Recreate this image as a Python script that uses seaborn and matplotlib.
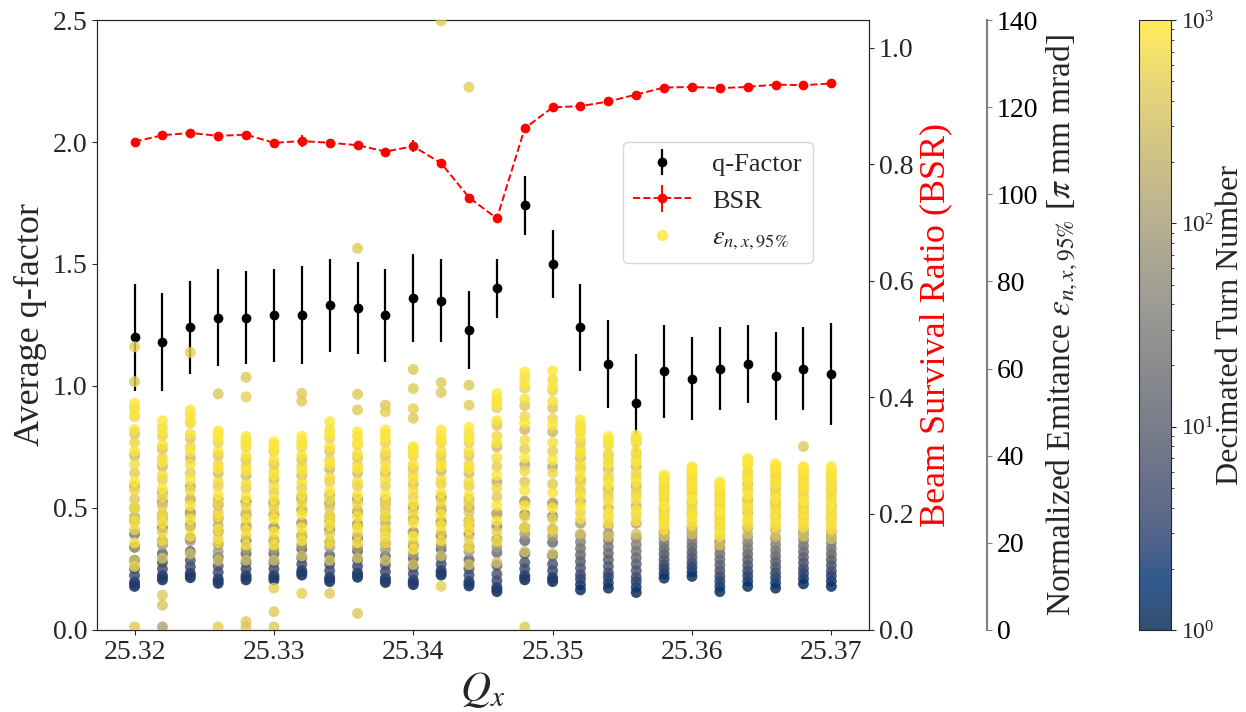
import matplotlib
matplotlib.use("Agg")
import matplotlib.pyplot as plt
import seaborn as sns
import numpy as np
import pandas as pd
from matplotlib.colors import LogNorm
from matplotlib.cm import ScalarMappable
from matplotlib.lines import Line2D

# tune scan points
QX = [25.320, 25.322, 25.324, 25.326, 25.328, 25.330, 25.332, 25.334, 25.336,
      25.338, 25.340, 25.342, 25.344, 25.346, 25.348, 25.350, 25.352, 25.354,
      25.356, 25.358, 25.360, 25.362, 25.364, 25.366, 25.368, 25.370]

# average q-factor and its spread
Q_FACTOR = [1.20, 1.18, 1.24, 1.28, 1.28, 1.29, 1.29, 1.33, 1.32, 1.29, 1.36, 1.35,
            1.23, 1.40, 1.74, 1.50, 1.24, 1.09, 0.93, 1.06, 1.03, 1.07, 1.09, 1.04,
            1.07, 1.05]
Q_ERR = [0.22, 0.20, 0.19, 0.20, 0.19, 0.19, 0.20, 0.19, 0.19, 0.19, 0.18, 0.17,
         0.16, 0.12, 0.12, 0.14, 0.18, 0.18, 0.20, 0.19, 0.17, 0.17, 0.16, 0.18,
         0.17, 0.21]

# beam survival ratio
BSR = [0.839, 0.850, 0.854, 0.849, 0.851, 0.837, 0.840, 0.837, 0.833, 0.822, 0.831,
       0.802, 0.743, 0.707, 0.862, 0.898, 0.900, 0.908, 0.920, 0.932, 0.933, 0.931,
       0.933, 0.937, 0.936, 0.939]
BSR_ERR = [0.005, 0.005, 0.005, 0.005, 0.005, 0.005, 0.010, 0.005, 0.006, 0.005, 0.010,
           0.006, 0.005, 0.005, 0.006, 0.005, 0.005, 0.005, 0.005, 0.005, 0.005, 0.005,
           0.005, 0.005, 0.005, 0.005]

# decimated turns at which the emittance was sampled
TURNS_EARLY = [1, 2, 3, 4, 6, 9, 14, 22, 35, 60]
TURNS_LATE = [100, 140, 190, 250, 310, 370, 430, 480, 530, 580, 630, 670, 710, 750,
              790, 830, 870, 900, 930, 960, 980, 1000]

# normalized emittance [pi mm mrad], one row per QX
EMIT_EARLY = [
    [10.0, 11.0, 10.5, 12.5, 14.0, 16.0, 19.0, 22.0, 25.0, 28.0],
    [11.5, 12.5, 12.0, 14.0, 15.5, 17.5, 20.5, 23.5, 26.5, 29.5],
    [12.0, 13.0, 12.5, 14.5, 16.0, 18.0, 21.0, 24.0, 27.0, 30.0],
    [10.7, 11.7, 11.2, 13.2, 14.7, 16.7, 19.7, 22.7, 25.7, 28.7],
    [11.5, 12.5, 12.0, 14.0, 15.5, 17.5, 20.5, 23.5, 26.5, 29.5],
    [11.5, 12.5, 12.0, 14.0, 15.5, 17.5, 20.5, 23.5, 26.5, 29.5],
    [12.6, 13.6, 13.1, 15.1, 16.6, 18.6, 21.6, 24.6, 27.6, 30.6],
    [11.1, 12.1, 11.6, 13.6, 15.1, 17.1, 20.1, 23.1, 26.1, 29.1],
    [12.1, 13.1, 12.6, 14.6, 16.1, 18.1, 21.1, 24.1, 27.1, 30.1],
    [10.9, 11.9, 11.4, 13.4, 14.9, 16.9, 19.9, 22.9, 25.9, 28.9],
    [10.4, 11.4, 10.9, 12.9, 14.4, 16.4, 19.4, 22.4, 25.4, 28.4],
    [12.6, 13.6, 13.1, 15.1, 16.6, 18.6, 21.6, 24.6, 27.6, 30.6],
    [10.1, 11.1, 10.6, 12.6, 14.1, 16.1, 19.1, 22.1, 25.1, 28.1],
    [8.8, 9.8, 9.3, 11.3, 12.8, 14.8, 17.8, 20.8, 23.8, 26.8],
    [11.5, 12.5, 12.0, 14.0, 15.5, 17.5, 20.5, 23.5, 26.5, 29.5],
    [11.1, 12.1, 11.6, 13.6, 15.1, 17.1, 20.1, 23.1, 26.1, 29.1],
    [9.2, 10.4, 11.7, 12.7, 14.2, 15.7, 17.2, 18.7, 20.2, 21.7],
    [9.6, 10.8, 12.1, 13.1, 14.6, 16.1, 17.6, 19.1, 20.6, 22.1],
    [8.6, 9.8, 11.1, 12.1, 13.6, 15.1, 16.6, 18.1, 19.6, 21.1],
    [11.9, 12.9, 14.0, 15.0, 16.2, 17.4, 18.6, 19.8, 21.0, 22.2],
    [12.3, 13.3, 14.4, 15.4, 16.6, 17.8, 19.0, 20.2, 21.4, 22.6],
    [8.8, 10.0, 11.2, 12.3, 13.6, 14.9, 16.2, 17.5, 18.8, 20.1],
    [10.0, 11.2, 12.4, 13.5, 14.8, 16.1, 17.4, 18.7, 20.0, 21.3],
    [9.6, 10.8, 12.0, 13.1, 14.4, 15.7, 17.0, 18.3, 19.6, 20.9],
    [10.6, 11.8, 13.0, 14.1, 15.4, 16.7, 18.0, 19.3, 20.6, 21.9],
    [10.0, 11.2, 12.4, 13.5, 14.8, 16.1, 17.4, 18.7, 20.0, 21.3],
]
EMIT_LATE = [
    [19, 33, 26, 40, 16, 45, 30, 36, 49, 23, 43, 32, 51, 38, 20, 46, 28, 41, 25, 49.5, 34, 52],
    [19.5, 31.5, 25.5, 37.5, 16.5, 41.5, 28.5, 34.5, 44.5, 22.5, 39.5, 30.5, 46.5, 35.5, 20.5, 42.5, 26.5, 38.5, 24.5, 45.5, 32.5, 48],
    [20.5, 33, 26.5, 39.5, 17.5, 44, 30, 36, 47.5, 23.5, 42, 32, 49.5, 38, 21.5, 45, 28.5, 41, 25.5, 48, 34.5, 50.5],
    [18, 30, 24, 36, 16, 40, 27, 33, 43, 21, 38, 29, 45, 34, 20, 41, 26, 37, 23, 44, 31, 45.7],
    [18.5, 29.5, 24, 35.5, 16, 39, 27, 32.5, 42, 21.5, 37.5, 28.5, 43.5, 33.5, 19.5, 40, 25.5, 36.5, 23, 42.5, 30.5, 44.4],
    [18.5, 29, 23.5, 34.5, 16, 38, 26.5, 31.5, 41, 21, 36.5, 28, 42.5, 33, 19.5, 39, 25.5, 35.5, 22.5, 41.5, 30, 43.2],
    [19.5, 30, 24.5, 35.5, 17, 39, 27.5, 32.5, 42, 22, 37.5, 29, 43.5, 34, 20.5, 40, 26.5, 36.5, 23.5, 42.5, 31, 44.5],
    [19, 31, 25, 37, 16, 41, 28, 34, 44, 22, 39, 30, 46, 35, 20, 42, 26, 38, 24, 45, 32, 47.8],
    [19, 30, 24.5, 36, 16.5, 39.5, 27.5, 33, 42.5, 22, 38, 29, 44.5, 34, 20, 40.5, 26, 37, 23.5, 43, 31, 45.5],
    [18.5, 30, 24.5, 36, 16, 40, 27.5, 33, 43, 21.5, 38.5, 29, 45, 34.5, 20, 41, 26, 37, 23, 44, 31, 45.9],
    [17.5, 28, 22.5, 33.5, 15, 37, 25.5, 30.5, 40, 20, 35.5, 27, 41.5, 32, 18.5, 38, 24.5, 34.5, 21.5, 40.5, 29, 42.1],
    [19.5, 30.5, 25, 36.5, 17, 40, 28, 33.5, 43, 22.5, 38.5, 29.5, 44.5, 34.5, 20.5, 41, 26.5, 37.5, 24, 43.5, 31.5, 45.9],
    [18, 30, 24, 36, 15, 40, 27, 33, 43, 21, 38, 29, 45, 34, 19, 41, 25, 37, 23, 44, 31, 46.5],
    [19, 34, 26.5, 42, 15.5, 47, 30.5, 37.5, 51, 22.5, 44.5, 32.5, 53, 39.5, 20.5, 48, 28.5, 43, 25, 52, 35.5, 54.3],
    [22, 38, 29.5, 46, 18, 51.5, 34, 41.5, 55.5, 26, 49, 36.5, 58, 43.5, 23.5, 53, 32, 47.5, 28.5, 56.5, 39.5, 59.2],
    [21.5, 37.5, 29, 45.5, 17.5, 51, 33.5, 41, 55, 25.5, 48.5, 36, 57.5, 43, 23, 52.5, 31.5, 47, 28, 56, 39, 59.5],
    [24.5, 34.5, 29.5, 39.5, 22, 43, 32, 37, 45.5, 27, 41.5, 33.5, 47, 38, 25.5, 44, 31, 40.5, 28.5, 46, 35.5, 48.2],
    [24, 32.5, 28, 37, 21.5, 40, 30.5, 34.5, 42.5, 26, 38.5, 31.5, 43.5, 35.5, 24.5, 40.5, 29.5, 38, 27, 43, 33.5, 44.4],
    [24.5, 33, 28.5, 37.5, 22, 40.5, 31, 35, 43, 26.5, 39, 32, 44, 36, 25, 41, 30, 38.5, 27.5, 43.5, 34, 44.7],
    [22.5, 28, 25.5, 31, 21.5, 33, 27, 29.5, 34.5, 24, 32, 27.5, 35, 30, 23, 33.5, 26, 31.5, 25, 34.5, 28.5, 35.6],
    [23.5, 29.5, 26.5, 32.5, 22, 34.5, 28, 31, 36, 25, 33.5, 29, 37, 31.5, 24, 35, 27, 33, 26, 36.5, 30, 37.5],
    [20.5, 26.5, 23.5, 29, 19.5, 31, 25, 27.5, 32.5, 22, 30.5, 26, 33.5, 28.5, 21.5, 31.5, 24.5, 30, 23, 33, 27, 34],
    [23.5, 30, 27, 33.5, 22, 36, 28.5, 32, 38, 25, 35, 29.5, 39, 32.5, 24, 36.5, 28, 34.5, 26, 38, 31, 39.4],
    [23, 29.5, 26, 32.5, 21.5, 35, 28, 31, 36.5, 24.5, 34, 28.5, 37.5, 31.5, 23.5, 35.5, 27, 33.5, 25.5, 37, 30, 38.2],
    [23, 29, 26, 32.5, 21.5, 34.5, 27.5, 30.5, 36, 24.5, 33.5, 28.5, 37, 31.5, 23.5, 35, 27, 33, 25.5, 36.5, 29.5, 37.5],
    [22.5, 28.5, 25.5, 32, 21, 34, 27, 30, 35.5, 24, 33, 28, 36.5, 31, 23, 34.5, 26.5, 32.5, 25, 36, 29, 37.5],
]

# isolated emittance points: QX index, turn, emittance
OUT_IDX = [0, 0, 0, 0, 1, 1, 1, 2, 3, 3, 4, 4, 4, 4, 5, 5, 5, 6, 6, 6, 7, 8, 8, 8, 8,
           9, 9, 10, 10, 10, 10, 11, 11, 11, 11, 12, 12, 12, 14, 24]
OUT_TURN = [500, 400, 450, 600, 400, 350, 120, 500, 400, 450, 400, 500, 450, 400, 450,
            400, 500, 400, 450, 500, 450, 400, 450, 400, 450, 400, 500, 400, 450, 500,
            400, 450, 400, 500, 450, 400, 450, 500, 450, 400]
OUT_EMIT = [65.0, 57.0, 0.7, 14.6, 8.0, 5.7, 0.7, 63.7, 54.2, 0.7, 58.0, 53.5, 1.9, 0.7,
            4.2, 0.7, 9.6, 54.3, 52.5, 8.4, 8.4, 54.1, 50.5, 3.8, 87.6, 51.6, 50.1, 59.8,
            55.4, 50.8, 48.6, 56.8, 54.5, 10.0, 139.8, 56.2, 51.6, 124.6, 0.7, 42.1]

rows = []
for turns, table in [(TURNS_EARLY, EMIT_EARLY), (TURNS_LATE, EMIT_LATE)]:
    for qx, col in zip(QX, table):
        for t, e in zip(turns, col):
            rows.append((qx, t, e))
for i, t, e in zip(OUT_IDX, OUT_TURN, OUT_EMIT):
    rows.append((QX[i], t, e))
emit_df = pd.DataFrame(rows, columns=["Qx", "turn", "emit"])

sns.set_style("ticks")
plt.rcParams["font.family"] = "serif"
plt.rcParams["font.serif"] = ["Liberation Serif", "DejaVu Serif"]
plt.rcParams["mathtext.fontset"] = "stix"

fig = plt.figure(figsize=(12.46, 7.12), dpi=100)
ax = fig.add_axes([0.0778, 0.1152, 0.6196, 0.8567])
ax2 = ax.twinx()
ax3 = ax.twinx()
cax = fig.add_axes([0.9141, 0.1152, 0.0257, 0.8567])

# q-factor
qf = ax.errorbar(QX, Q_FACTOR, yerr=Q_ERR, fmt="o", color="black", ms=6, elinewidth=1.6,
                 label="q-Factor")
ax.set_ylim(0, 2.5)
ax.set_xlim(25.3173, 25.3727)
ax.set_xticks([25.32, 25.33, 25.34, 25.35, 25.36, 25.37])
ax.set_xticklabels(["25.32", "25.33", "25.34", "25.35", "25.36", "25.37"])
ax.set_yticks([0, 0.5, 1.0, 1.5, 2.0, 2.5])
ax.tick_params(labelsize=20)
ax.set_ylabel("Average q-factor", fontsize=26)
ax.set_xlabel(r"$Q_x$", fontsize=30)

# beam survival ratio
bsr = ax2.errorbar(QX, BSR, yerr=BSR_ERR, fmt="o--", color="red", ms=6, lw=1.4,
                   elinewidth=1.4, label="BSR")
ax2.set_ylim(0, 1.048)
ax2.set_yticks([0, 0.2, 0.4, 0.6, 0.8, 1.0])
ax2.tick_params(labelsize=20)
ax2.set_ylabel("Beam Survival Ratio (BSR)", fontsize=26, color="red")

# emittance cloud
norm = LogNorm(vmin=1, vmax=1000)
sns.scatterplot(data=emit_df, x="Qx", y="emit", hue="turn", hue_norm=norm,
                palette="cividis", s=62, alpha=0.8, edgecolor="none", legend=False,
                ax=ax3)
ax3.set_ylim(0, 140)
ax3.set_xlim(25.3173, 25.3727)
ax3.spines["right"].set_position(("axes", 1.153))
ax3.spines["right"].set_color("gray")
ax3.spines["right"].set_linewidth(1.5)
for s in ["left", "top", "bottom"]:
    ax3.spines[s].set_visible(False)
ax3.tick_params(axis="y", labelsize=20, colors="gray", labelcolor="black")
ax3.set_yticks([0, 20, 40, 60, 80, 100, 120, 140])
ax3.set_xlabel("")
ax3.set_ylabel(r"Normalized Emitance $\varepsilon_{n,x,95\%}$ [$\pi$ mm mrad]", fontsize=24)

sm = ScalarMappable(norm=norm, cmap="cividis")
cb = fig.colorbar(sm, cax=cax, alpha=0.8)
cb.ax.tick_params(labelsize=17)
cb.set_label("Decimated Turn Number", fontsize=23, labelpad=1)

emit_handle = Line2D([], [], marker="o", ls="none", ms=7, alpha=0.8,
                     color=plt.get_cmap("cividis")(1.0))
leg = ax3.legend([qf, bsr, emit_handle], ["q-Factor", "BSR", r"$\varepsilon_{n,x,95\%}$"],
                 loc="upper left", bbox_to_anchor=(0.681, 0.80), fontsize=19,
                 borderaxespad=0, handlelength=2.2)

fig.savefig("out.png", dpi=100)
